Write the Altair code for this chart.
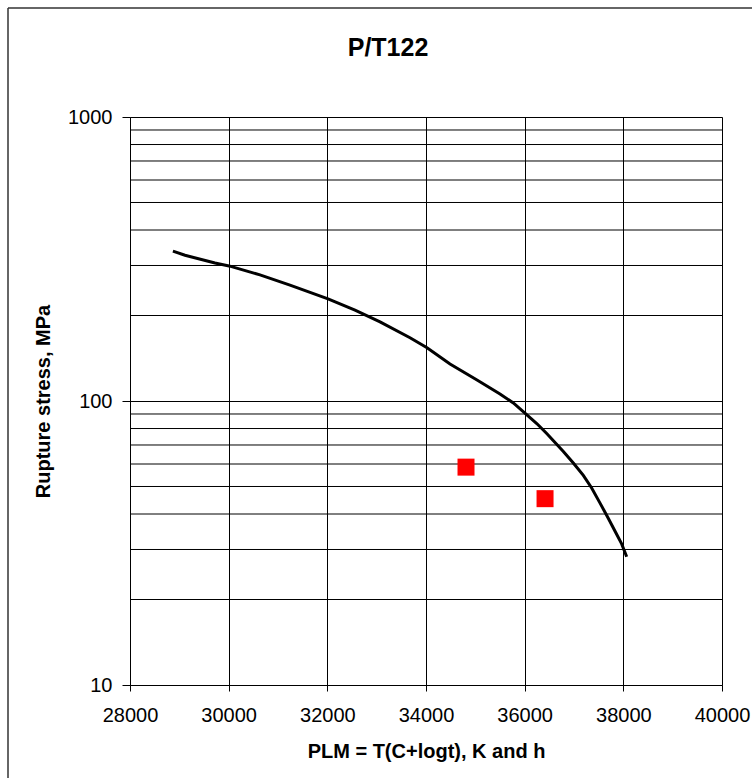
import altair as alt
import pandas as pd

# Master curve
curve_plm = [28870, 29115, 29723, 30007, 30635, 31243, 32014, 32561, 33068, 33676,
             34021, 34487, 35034, 35500, 35770, 35988, 36245, 36447, 36784, 36986,
             37189, 37358, 37528, 37697, 37851, 37966, 38068]
curve_stress = [337, 326, 306, 299, 278, 256, 229, 209, 190, 167,
                154, 135, 118.6, 105.8, 98.4, 91.2, 83.3, 76.8, 66.4, 60.5,
                54.7, 49.4, 43.7, 38.6, 34.3, 31.4, 28.3]

# Test points
test_plm = [34811, 36413]
test_stress = [58.5, 45.3]

# Axis ticks / gridlines
x_ticks = [28000, 30000, 32000, 34000, 36000, 38000, 40000]
y_major = [10, 100, 1000]
y_minor = [20, 30, 40, 50, 60, 70, 80, 90, 200, 300, 400, 500, 600, 700, 800, 900]

TITLE = "P/T122"
FONT = "Liberation Sans"
W, H = 592, 568

curve_df = pd.DataFrame({"plm": curve_plm, "stress": curve_stress, "i": range(len(curve_plm))})
test_df = pd.DataFrame({"plm": test_plm, "stress": test_stress})
minor_df = pd.DataFrame({"v": y_minor})

xscale = alt.Scale(domain=[28000, 40000], nice=False, zero=False)
yscale = alt.Scale(type="log", domain=[10, 1000], nice=False)

xaxis = alt.Axis(values=x_ticks, format="d", title="PLM = T(C+logt), K and h",
                 grid=True, gridColor="#000000", gridWidth=1, gridOpacity=1,
                 domainColor="#000000", tickColor="#000000", tickSize=6,
                 labelFontSize=20, labelFont=FONT, labelColor="#000000", labelPadding=14,
                 titleFontSize=20, titleFont=FONT, titleFontWeight="bold", titleColor="#000000",
                 titlePadding=16, labelFlush=False)
yaxis = alt.Axis(values=y_major, format="d", title="Rupture stress, MPa",
                 grid=True, gridColor="#000000", gridWidth=1, gridOpacity=1,
                 domainColor="#000000", tickColor="#000000", tickSize=8,
                 labelFontSize=20, labelFont=FONT, labelColor="#000000", labelPadding=10,
                 titleFontSize=20, titleFont=FONT, titleFontWeight="bold", titleColor="#000000",
                 titlePadding=14)

grid = alt.Chart(minor_df).mark_rule(color="#000000", strokeWidth=1).encode(
    y=alt.Y("v:Q", scale=yscale, axis=yaxis),
)

line = alt.Chart(curve_df).mark_line(color="#000000", strokeWidth=3).encode(
    x=alt.X("plm:Q", scale=xscale, axis=xaxis),
    y=alt.Y("stress:Q", scale=yscale, axis=yaxis),
    order="i:Q",
)

pts = alt.Chart(test_df).mark_square(size=289, color="#FF0000", opacity=1).encode(
    x=alt.X("plm:Q", scale=xscale),
    y=alt.Y("stress:Q", scale=yscale),
)

one = alt.Data(values=[{}])
frame_left = alt.Chart(one).mark_rule(color="#333333", strokeWidth=1.5).encode(
    x=alt.value(-122), y=alt.value(-109), y2=alt.value(700)
)
frame_top = alt.Chart(one).mark_rule(color="#333333", strokeWidth=1.5).encode(
    x=alt.value(-122), x2=alt.value(700), y=alt.value(-109)
)
title = alt.Chart(one).mark_text(text=TITLE, font=FONT, fontSize=25, fontWeight="bold",
                                 color="#000000", align="center", baseline="alphabetic").encode(
    x=alt.value(258), y=alt.value(-61)
)

chart = alt.layer(grid, line, pts, frame_left, frame_top, title).properties(
    width=W, height=H,
    autosize=alt.AutoSizeParams(type="none"),
    padding={"left": 130, "top": 117, "right": 30, "bottom": 93},
).configure_view(stroke="#000000", strokeWidth=1).configure(background="#ffffff")

chart.save("out.html", embed_options={"renderer": "svg", "actions": False})
